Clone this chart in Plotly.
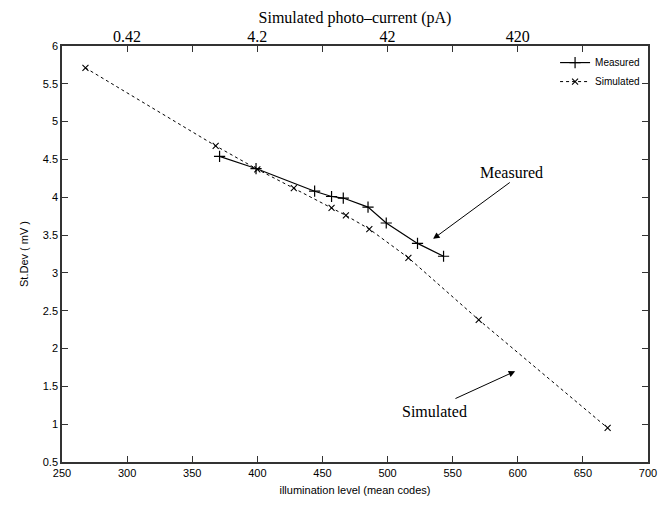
import plotly.graph_objects as go

# Data
meas_x = [371, 399, 444, 457, 466, 485, 499, 523, 543]
meas_y = [4.54, 4.38, 4.08, 4.01, 3.99, 3.87, 3.66, 3.39, 3.22]

sim_x = [268, 368, 400, 428, 457, 468, 486, 516, 570, 669]
sim_y = [5.71, 4.68, 4.37, 4.12, 3.86, 3.76, 3.58, 3.20, 2.38, 0.95]

bottom_ticks = [250, 300, 350, 400, 450, 500, 550, 600, 650, 700]
top_tickvals = [300, 350, 400, 450, 500, 550, 600, 650]
top_ticktext = ["0.42", "", "4.2", "", "42", "", "420", ""]
y_ticks = [0.5, 1, 1.5, 2, 2.5, 3, 3.5, 4, 4.5, 5, 5.5, 6]

SANS = "Liberation Sans, Arial, sans-serif"
SERIF = "Liberation Serif, Times New Roman, serif"
FRAME = "#333333"

fig = go.Figure()
fig.add_trace(go.Scatter(
    x=meas_x, y=meas_y, name="Measured", mode="lines+markers",
    line=dict(color="black", width=1.2),
    marker=dict(symbol="cross-thin-open", size=8, line=dict(color="black", width=1.2)),
))
fig.add_trace(go.Scatter(
    x=sim_x, y=sim_y, name="Simulated", mode="lines+markers",
    line=dict(color="black", width=1, dash="dot"),
    marker=dict(symbol="x-thin-open", size=6, line=dict(color="black", width=1.1)),
))
# invisible trace to activate the top axis
fig.add_trace(go.Scatter(x=[meas_x[0]], y=[meas_y[0]], xaxis="x2", mode="markers",
                         marker=dict(opacity=0), showlegend=False, hoverinfo="skip"))

fig.update_layout(
    width=668, height=506,
    margin=dict(l=62, r=11, t=46, b=43),
    plot_bgcolor="white", paper_bgcolor="white",
    showlegend=True,
    legend=dict(x=0.995, y=0.995, xanchor="right", yanchor="top",
                font=dict(family=SANS, size=10, color="black"),
                bgcolor="rgba(0,0,0,0)", borderwidth=0,
                tracegroupgap=0, itemwidth=30),
    xaxis=dict(
        range=[250, 700], tickmode="array", tickvals=bottom_ticks,
        ticks="inside", ticklen=6, tickcolor=FRAME, tickwidth=1.3,
        showline=True, linecolor=FRAME, linewidth=1.5, mirror=True,
        showgrid=False, zeroline=False,
        tickfont=dict(family=SANS, size=11, color="black"),
        title=dict(text="illumination level (mean codes)",
                   font=dict(family=SANS, size=11, color="black"), standoff=8),
    ),
    xaxis2=dict(
        range=[250, 700], overlaying="x", side="top", anchor="y",
        tickmode="array", tickvals=top_tickvals, ticktext=top_ticktext,
        ticks="inside", ticklen=6, tickcolor=FRAME, tickwidth=1.3,
        showgrid=False, zeroline=False, showline=False,
        tickfont=dict(family=SERIF, size=16, color="black"),
        title=dict(text="Simulated photo\u2013current (pA)",
                   font=dict(family=SERIF, size=16, color="black"), standoff=0),
    ),
    yaxis=dict(
        range=[0.5, 6], tickmode="array", tickvals=y_ticks,
        ticks="inside", ticklen=6, tickcolor=FRAME, tickwidth=1.3,
        showline=True, linecolor=FRAME, linewidth=1.5, mirror="ticks",
        showgrid=False, zeroline=False,
        tickfont=dict(family=SANS, size=11, color="black"),
        title=dict(text="St.Dev ( mV )",
                   font=dict(family=SANS, size=11, color="black"), standoff=12),
    ),
)

# Annotations with arrows (tail and tip in data coordinates)
fig.add_annotation(x=535, y=3.45, ax=595, ay=4.21, axref="x", ayref="y",
                   xref="x", yref="y", text="", showarrow=True,
                   arrowhead=2, arrowsize=1.3, arrowwidth=1, arrowcolor="black")
fig.add_annotation(x=595, y=4.33, xref="x", yref="y", text="Measured", showarrow=False,
                   font=dict(family=SERIF, size=16, color="black"))
fig.add_annotation(x=598, y=1.70, ax=551, ay=1.33, axref="x", ayref="y",
                   xref="x", yref="y", text="", showarrow=True,
                   arrowhead=2, arrowsize=1.3, arrowwidth=1, arrowcolor="black")
fig.add_annotation(x=536, y=1.17, xref="x", yref="y", text="Simulated", showarrow=False,
                   font=dict(family=SERIF, size=16, color="black"))

fig.write_html("out.html")
